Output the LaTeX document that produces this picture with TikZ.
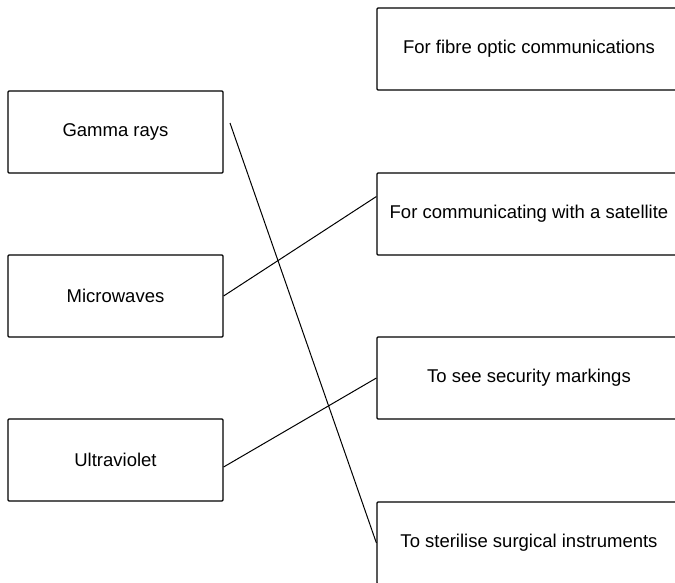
\documentclass[tikz,border=0pt]{standalone}
\usepackage{fontspec}
\setmainfont{Liberation Sans}
\usetikzlibrary{calc}
\begin{document}
\begin{tikzpicture}[x=1pt, y=-1pt,
    box/.style={draw, rectangle, rounded corners=1pt, line width=1.2pt, inner sep=0pt,
                font=\fontsize{18.5}{22}\selectfont},
    wave/.style={box, minimum width=215pt, minimum height=82pt},
    use/.style={box, minimum width=304pt, minimum height=82pt}]
    \useasboundingbox (0,0) rectangle (675,583);
    \clip (0,0) rectangle (675,583);

    \node[wave] (gamma) at (115.5, 132) {Gamma rays};
    \node[wave] (micro) at (115.5, 296) {Microwaves};
    \node[wave] (uv) at (115.5, 460) {Ultraviolet};

    \node[use] (fibre) at (529, 49) {For fibre optic communications};
    \node[use] (sat) at (529, 214) {For communicating with a satellite};
    \node[use] (secure) at (529, 378) {To see security markings};
    \node[use] (steril) at (529, 543) {To sterilise surgical instruments};

    \coordinate (gstart) at (230, 123);

    \draw[line width=1pt] (gstart) -- (steril.west);
    \draw[line width=1pt] (micro.east) -- ($(sat.north west)!0.29!(sat.south west)$);
    \draw[line width=1pt] ([yshift=-7pt]uv.east) -- (secure.west);
\end{tikzpicture}
\end{document}
